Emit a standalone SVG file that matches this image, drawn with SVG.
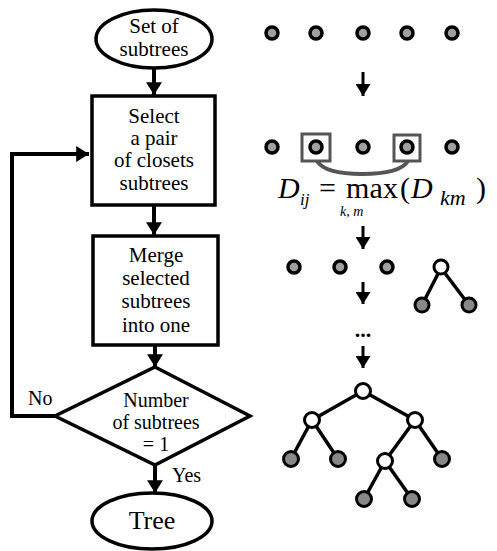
<svg xmlns="http://www.w3.org/2000/svg" width="497" height="551" viewBox="0 0 497 551">
<defs>
<style>
.t{font-size:21px;fill:#000;text-anchor:middle}
.lbl{font-size:20px;fill:#000}
.shape{fill:#fff;stroke:#000;stroke-width:3.5}
.conn{stroke:#000;stroke-width:4;fill:none}
.thin{stroke:#000;stroke-width:3;fill:none}
.dot{fill:#a0a0a0;stroke:#000;stroke-width:3.5}
.gn{fill:#888;stroke:#000;stroke-width:3}
.wn{fill:#fff;stroke:#000;stroke-width:3}
.edge{stroke:#000;stroke-width:3.5}
.m{fill:#000}
</style>
<marker id="ah" markerWidth="4" markerHeight="4" refX="3.2" refY="2" orient="auto" markerUnits="strokeWidth"><path d="M0,0 L3.2,2 L0,4 Z" fill="#000"/></marker>
<marker id="ah2" markerWidth="5" markerHeight="5" refX="4" refY="2.5" orient="auto" markerUnits="strokeWidth"><path d="M0,0 L4,2.5 L0,5 Z" fill="#000"/></marker>
</defs>

<g id="connectors">
<line class="conn" x1="154" y1="68" x2="154" y2="95" marker-end="url(#ah)"/>
<line class="conn" x1="154" y1="205" x2="154" y2="235" marker-end="url(#ah)"/>
<line class="conn" x1="155" y1="345" x2="155" y2="367" marker-end="url(#ah)"/>
<line class="conn" x1="155" y1="465" x2="155" y2="493" marker-end="url(#ah)"/>
<polyline class="conn" points="55,416 12,416 12,154 89,154" marker-end="url(#ah)"/>
<line class="thin" x1="363" y1="72" x2="363" y2="96" marker-end="url(#ah2)"/>
<line class="thin" x1="363" y1="226" x2="363" y2="249" marker-end="url(#ah2)"/>
<line class="thin" x1="363" y1="282" x2="363" y2="304" marker-end="url(#ah2)"/>
<line class="thin" x1="363" y1="346" x2="363" y2="368" marker-end="url(#ah2)"/>
</g>

<g font-family="Liberation Serif, serif">
<g id="start">
<ellipse class="shape" cx="154" cy="39" rx="58" ry="29"/>
<text class="t" x="154" y="33">Set of</text>
<text class="t" x="154" y="56">subtrees</text>
</g>

<g id="select">
<rect class="shape" x="92" y="96" width="123" height="109" stroke-width="4"/>
<text class="t" x="154" y="123">Select</text>
<text class="t" x="154" y="145">a pair</text>
<text class="t" x="154" y="167">of closets</text>
<text class="t" x="154" y="190">subtrees</text>
</g>

<g id="merge">
<rect class="shape" x="93" y="236" width="125" height="109" stroke-width="5"/>
<text class="t" x="156" y="262">Merge</text>
<text class="t" x="156" y="285">selected</text>
<text class="t" x="156" y="308">subtrees</text>
<text class="t" x="156" y="332">into one</text>
</g>

<g id="decision">
<polygon class="shape" points="155,367 250,416 155,465 55,416"/>
<text class="t" x="156" y="407" style="font-size:20px">Number</text>
<text class="t" x="156" y="429" style="font-size:20px">of subtrees</text>
<text class="t" x="156" y="451" style="font-size:20px">= 1</text>
<text class="lbl" x="28" y="405">No</text>
<text class="lbl" x="172" y="482">Yes</text>
</g>

<g id="end">
<ellipse class="shape" cx="152" cy="521" rx="60" ry="28"/>
<text class="t" x="152" y="529" style="font-size:26px">Tree</text>
</g>
</g>

<g id="row1">
<circle class="dot" cx="272" cy="33" r="6"/>
<circle class="dot" cx="316" cy="33" r="6"/>
<circle class="dot" cx="363" cy="33" r="6"/>
<circle class="dot" cx="407" cy="33" r="6"/>
<circle class="dot" cx="452" cy="33" r="6"/>
</g>

<g id="row2">
<rect x="302" y="134" width="28" height="27" fill="none" stroke="#555" stroke-width="3"/>
<rect x="394" y="135" width="26" height="26" fill="none" stroke="#555" stroke-width="3"/>
<path d="M317,161 Q325,174 362,174 Q400,174 408,161" fill="none" stroke="#555" stroke-width="4"/>
<circle class="dot" cx="272" cy="147" r="6"/>
<circle class="dot" cx="316" cy="147" r="6"/>
<circle class="dot" cx="363" cy="147" r="6"/>
<circle class="dot" cx="407" cy="147" r="6"/>
<circle class="dot" cx="452" cy="147" r="6"/>
</g>

<g id="formula" font-family="Liberation Serif, serif">
<text class="m" x="278" y="198" font-size="30" font-style="italic">D</text>
<text class="m" x="300" y="205" font-size="17" font-style="italic">ij</text>
<text class="m" x="319" y="198" font-size="30">=</text>
<text class="m" x="346" y="198" font-size="30" textLength="52">max</text>
<text class="m" x="400" y="198" font-size="30">(</text>
<text class="m" x="411" y="198" font-size="30" font-style="italic">D</text>
<text class="m" x="440" y="205" font-size="22" font-style="italic">km</text>
<text class="m" x="476" y="198" font-size="30">)</text>
<text class="m" x="340" y="216" font-size="14" font-style="italic">k, m</text>
</g>

<g id="row3">
<circle class="dot" cx="294" cy="267" r="6"/>
<circle class="dot" cx="340" cy="267" r="6"/>
<circle class="dot" cx="387" cy="267" r="6"/>
<line class="edge" x1="441" y1="268" x2="422" y2="305"/>
<line class="edge" x1="441" y1="268" x2="469" y2="305"/>
<circle class="wn" cx="441" cy="267" r="7"/>
<circle class="gn" cx="422" cy="305" r="7"/>
<circle class="gn" cx="469" cy="305" r="7"/>
</g>

<g id="ellipsis">
<text class="m" x="363" y="337" font-size="22" font-weight="bold" text-anchor="middle" font-family="Liberation Serif, serif">...</text>
</g>

<g id="bigtree">
<line class="edge" x1="363" y1="391" x2="312" y2="420"/>
<line class="edge" x1="363" y1="391" x2="415" y2="420"/>
<line class="edge" x1="312" y1="420" x2="291" y2="459"/>
<line class="edge" x1="312" y1="420" x2="338" y2="459"/>
<line class="edge" x1="415" y1="420" x2="385" y2="461"/>
<line class="edge" x1="415" y1="420" x2="442" y2="459"/>
<line class="edge" x1="385" y1="461" x2="364" y2="499"/>
<line class="edge" x1="385" y1="461" x2="412" y2="499"/>
<circle class="wn" cx="363" cy="391" r="7.5"/>
<circle class="wn" cx="312" cy="420" r="7.5"/>
<circle class="wn" cx="415" cy="420" r="7.5"/>
<circle class="gn" cx="291" cy="459" r="7.5"/>
<circle class="gn" cx="338" cy="459" r="7.5"/>
<circle class="wn" cx="385" cy="461" r="7.5"/>
<circle class="gn" cx="442" cy="459" r="7.5"/>
<circle class="gn" cx="364" cy="499" r="7.5"/>
<circle class="gn" cx="412" cy="499" r="7.5"/>
</g>
</svg>
